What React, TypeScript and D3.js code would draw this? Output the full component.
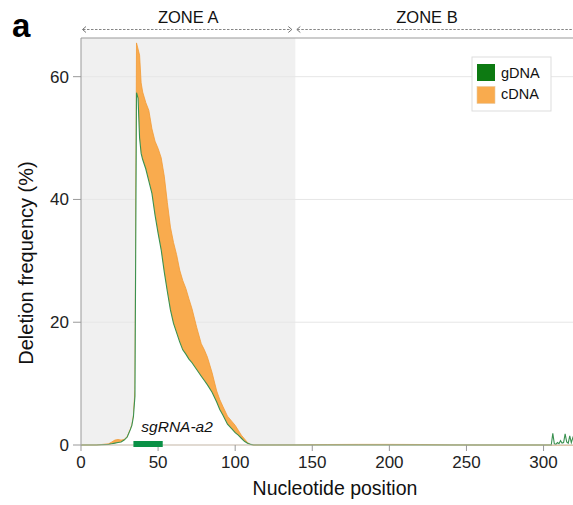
import React from 'react';
import * as d3 from 'd3';

// nucleotide positions sampled along the amplicon
const positions = [0, 10, 18, 20, 22, 24, 26, 28, 30, 32, 33, 34, 35, 36, 37, 38, 39, 40, 42, 44, 46, 48, 50, 52, 54, 56, 58, 60, 62, 64, 66, 68, 70, 72, 75, 78, 80, 82, 85, 88, 90, 92, 95, 98, 100, 102, 104, 106, 108, 110, 112, 140, 160, 180, 200, 220, 240, 260, 280, 300, 305, 306, 307, 308, 309, 310, 311, 312, 313, 314, 315, 316, 317, 318, 319, 320];
const gDNA = [0, 0, 0.1, 0.2, 0.3, 0.4, 0.5, 0.8, 1.3, 2.5, 3.2, 4.6, 8, 57.4, 56.5, 50, 47.5, 46.5, 45, 43, 41, 37.5, 34.5, 31.8, 28.2, 25, 22, 19.8, 18.3, 16.8, 15.5, 14.8, 14, 13.4, 12.3, 11.2, 10.5, 9.8, 8.6, 7, 5.8, 4.9, 3.4, 2.6, 2, 1.6, 1.1, 0.6, 0.3, 0.1, 0, 0, 0, 0, 0, 0, 0, 0, 0, 0, 0, 1.9, 0.2, 0.1, 0.4, 0.2, 0.7, 0.3, 0.4, 1.8, 0.5, 0.3, 1.5, 0.4, 1.2, 0.6];
const cDNA = [0, 0, 0.2, 0.5, 0.8, 0.9, 0.8, 0.9, 1.4, 2.6, 3.3, 4.8, 9, 65.5, 64.5, 63.5, 59, 57.5, 55.8, 54.5, 51.5, 49.5, 48.3, 46.8, 43.8, 39.5, 35.5, 33, 31, 28.5, 26.8, 25.5, 23.8, 22.2, 19.2, 16.5, 15.5, 14.3, 11.8, 8.8, 7.4, 6.3, 4.7, 3.8, 3.2, 2.4, 1.6, 1, 0.4, 0.1, 0, 0.02, 0.08, 0.1, 0.1, 0.08, 0.02, 0, 0, 0, 0, 0, 0, 0, 0, 0, 0, 0, 0, 0, 0, 0, 0, 0, 0, 0];

const xTicks = [0, 50, 100, 150, 200, 250, 300];
const yTicks = [0, 20, 40, 60];
const zoneAEnd = 139;
const sgRNA = [34, 53];
const legendItems = ['gDNA', 'cDNA'];

const W = 573;
const H = 505;
const font = 'Liberation Sans, Arial, sans-serif';

export default function App() {
  const x = d3.scaleLinear().domain([0, 319.1]).range([81, 573]);
  const y = d3.scaleLinear().domain([0, 66.3]).range([445, 38]);
  const [x0, x1] = x.range();
  const [yb, yt] = y.range();

  const pts = positions.map((p, i) => ({ p, g: gDNA[i], c: cDNA[i] }));
  const cArea = d3.area<any>().x((d) => x(d.p)).y0(y(0)).y1((d) => y(d.c));
  const gArea = d3.area<any>().x((d) => x(d.p)).y0(y(0)).y1((d) => y(d.g));
  const gLine = d3.line<any>().x((d) => x(d.p)).y((d) => y(d.g));
  const cLine = d3.line<any>().x((d) => x(d.p)).y((d) => y(d.c));

  const colors: Record<string, string> = { gDNA: '#0d7a12', cDNA: '#f9ab4e' };
  const xA = x(zoneAEnd);

  return (
    <svg width={W} height={H} style={{ position: 'absolute', left: 0, top: 0, background: '#fff' }}>
      <defs>
        <clipPath id="plot">
          <rect x={x0} y={yt} width={x1 - x0} height={yb - yt + 1} />
        </clipPath>
      </defs>

      {/* zone A shading */}
      <rect x={x0} y={yt} width={xA - x0} height={yb - yt} fill="#f0f0f0" />

      {/* gridlines */}
      {yTicks.filter((t) => t > 0).map((t) => (
        <line key={t} x1={x0} x2={x1} y1={y(t)} y2={y(t)} stroke="#e6e6e6" strokeWidth={1} />
      ))}

      <g clipPath="url(#plot)">
        <path d={cArea(pts) || ''} fill="#f9ab4e" />
        <path d={cLine(pts) || ''} fill="none" stroke="#f29a35" strokeWidth={0.8} />
        <path d={gArea(pts) || ''} fill="#fff" />
        <path d={gLine(pts) || ''} fill="none" stroke="#3a9150" strokeWidth={1.1} />
      </g>

      {/* frame */}
      <line x1={x0} x2={x1} y1={yt} y2={yt} stroke="#999" strokeWidth={1} />
      <line x1={x0} x2={x0} y1={yt} y2={yb} stroke="#999" strokeWidth={1} />
      <line x1={x0} x2={x1} y1={yb} y2={yb} stroke="#c4b6a6" strokeWidth={1.2} />

      {/* y axis */}
      {yTicks.map((t) => (
        <g key={t}>
          <line x1={x0 - 8} x2={x0} y1={y(t)} y2={y(t)} stroke="#999" />
          <text x={x0 - 12} y={y(t) + 6} textAnchor="end" fontSize={17} fontFamily={font} fill="#222">{t}</text>
        </g>
      ))}
      <text transform={`translate(33, 263) rotate(-90)`} textAnchor="middle" fontSize={20} fontFamily={font} fill="#111">
        Deletion frequency (%)
      </text>

      {/* x axis */}
      {xTicks.map((t) => (
        <g key={t}>
          <line x1={x(t)} x2={x(t)} y1={yb} y2={yb + 6} stroke="#999" />
          <text x={x(t)} y={468} textAnchor="middle" fontSize={17} fontFamily={font} fill="#222">{t}</text>
        </g>
      ))}
      <text x={335} y={495} textAnchor="middle" fontSize={19.5} fontFamily={font} fill="#111">Nucleotide position</text>

      {/* sgRNA */}
      <rect x={x(sgRNA[0])} y={yb - 4} width={x(sgRNA[1]) - x(sgRNA[0])} height={6} fill="#0a9146" />
      <text x={(x(sgRNA[0]) + x(sgRNA[1])) / 2 + 29} y={432} textAnchor="middle" fontSize={15.5} fontStyle="italic" fontFamily={font} fill="#111">
        sgRNA-a2
      </text>

      {/* zones */}
      <line x1={x0 + 2} x2={xA - 4} y1={29.5} y2={29.5} stroke="#666" strokeDasharray="2.5,1.5" strokeWidth={0.8} />
      <path d={`M${x0 + 5},26.5 L${x0 + 1.5},29.5 L${x0 + 5},32.5`} fill="none" stroke="#666" strokeWidth={0.9} />
      <path d={`M${xA - 7},26.5 L${xA - 3.5},29.5 L${xA - 7},32.5`} fill="none" stroke="#666" strokeWidth={0.9} />
      <line x1={xA + 2} x2={x1} y1={29.5} y2={29.5} stroke="#666" strokeDasharray="2.5,1.5" strokeWidth={0.8} />
      <path d={`M${xA + 5},26.5 L${xA + 1.5},29.5 L${xA + 5},32.5`} fill="none" stroke="#666" strokeWidth={0.9} />
      <text x={(x0 + xA) / 2} y={23} textAnchor="middle" fontSize={16.5} fontFamily={font} fill="#111">ZONE A</text>
      <text x={427} y={23} textAnchor="middle" fontSize={16.5} fontFamily={font} fill="#111">ZONE B</text>

      {/* panel letter */}
      <text x={12} y={37} fontSize={33} fontWeight="bold" fontFamily={font} fill="#000">a</text>

      {/* legend */}
      <rect x={472} y={57} width={79} height={54} fill="#fff" stroke="#ddd" />
      {legendItems.map((k, i) => (
        <g key={k}>
          <rect x={477} y={64 + i * 22.5} width={18} height={17} fill={colors[k]} stroke={i === 1 ? '#e8c9a0' : 'none'} strokeWidth={0.6} />
          <text x={501} y={77.5 + i * 21} fontSize={14.5} fontFamily={font} fill="#111">{k}</text>
        </g>
      ))}
    </svg>
  );
}
